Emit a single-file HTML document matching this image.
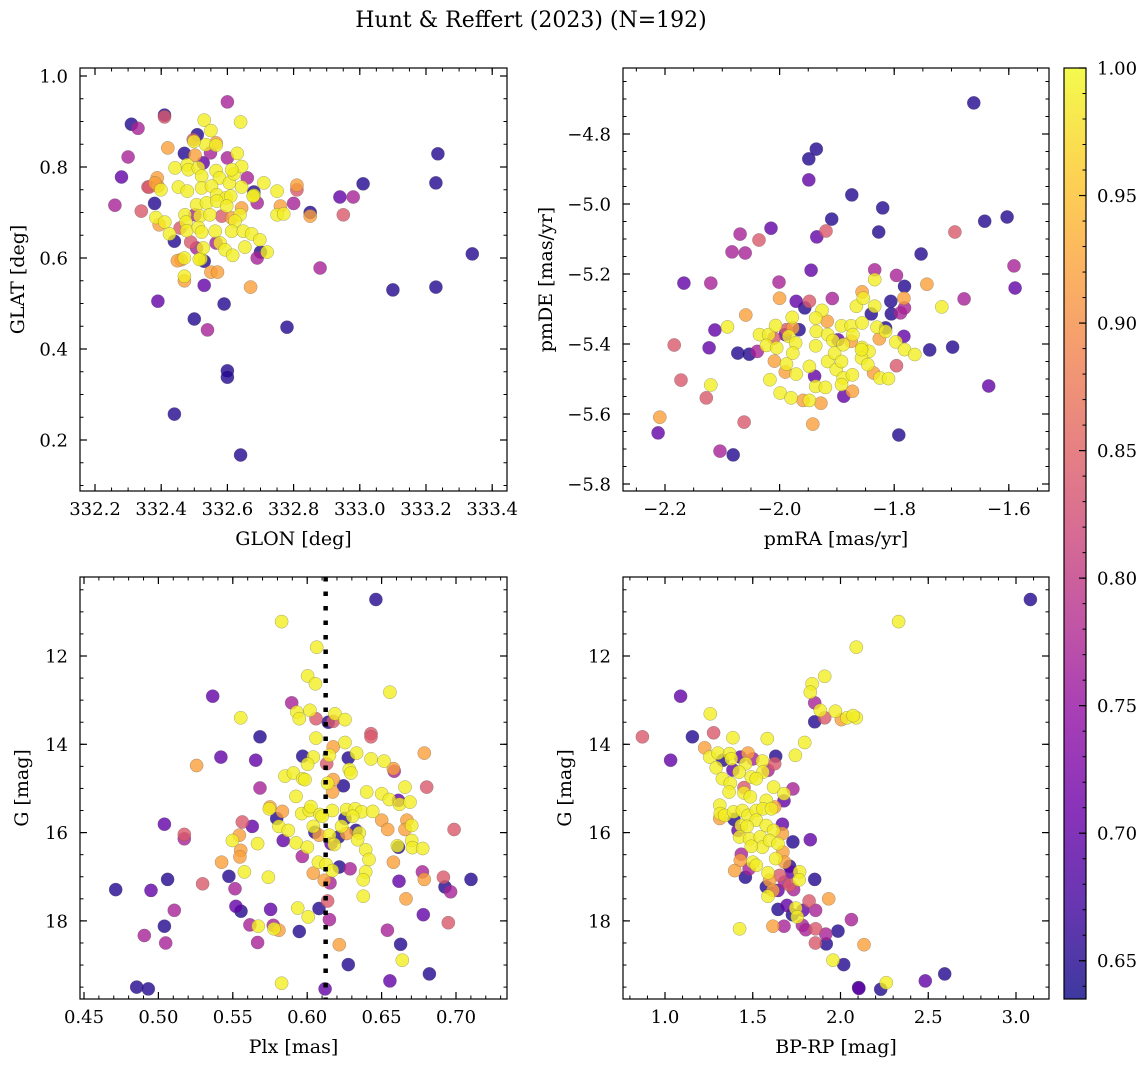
<!DOCTYPE html>
<html><head><meta charset="utf-8">
<style>
html,body{margin:0;padding:0;background:#fff;}
svg text{font-family:"DejaVu Serif","Liberation Serif",serif;fill:#000;}
</style></head>
<body>
<svg id="fig" width="1148" height="1067" viewBox="0 0 1148 1067" xmlns="http://www.w3.org/2000/svg">
<rect width="1148" height="1067" fill="#fff"/>
<text x="531" y="27" font-size="22" text-anchor="middle">Hunt &amp; Reffert (2023) (N=192)</text>
</svg>
<script>
// ---- data ----
const b=.65,p=.70,m=.77,k=.84,o=.92,y=.99;
const posData=[[332.31,0.894,b],[332.33,0.885,m],[332.28,0.778,p],[332.26,0.716,m],[332.30,0.822,m],[332.41,0.914,b],[332.41,0.910,k],[332.60,0.943,m],[332.64,0.899,y],[332.53,0.903,y],[332.55,0.88,y],
[333.236,0.829,b],[333.23,0.765,b],[333.34,0.609,b],[333.23,0.536,b],[333.10,0.53,b],[333.01,0.763,b],[332.94,0.734,p],[332.98,0.734,m],[332.95,0.695,k],[332.88,0.578,m],[332.78,0.448,b],[332.64,0.167,b],[332.44,0.257,b],[332.60,0.352,b],[332.60,0.338,b],[332.50,0.466,b],[332.54,0.442,m],[332.59,0.499,b],[332.39,0.505,p],[332.53,0.54,p],[332.67,0.536,o],[332.85,0.70,b],[332.85,0.692,o],[332.81,0.76,o],[332.81,0.75,k],[332.80,0.72,m],[332.76,0.714,o],[332.75,0.695,y],[332.77,0.697,y],[332.71,0.765,y],[332.75,0.747,y],
[332.34,0.703,k],[332.42,0.842,o],[332.47,0.83,b],[332.60,0.82,m],[332.63,0.83,y],[332.66,0.776,m],[332.38,0.72,b],[332.39,0.758,o],[332.36,0.756,k],[332.44,0.637,b],[332.46,0.596,o],[332.47,0.56,y],[332.47,0.55,o],[332.55,0.569,o],[332.57,0.569,o],[332.52,0.598,y],[332.53,0.593,b],[332.69,0.60,m],[332.70,0.613,b],[332.72,0.613,y],[332.68,0.745,b],[332.68,0.738,y],
[332.442,0.798,y],[332.479,0.805,y],[332.502,0.826,o],[332.497,0.860,k],[332.509,0.871,b],[332.535,0.849,y],[332.566,0.853,o],[332.566,0.848,y],[332.499,0.856,y],[332.549,0.831,m],[332.527,0.809,p],[332.482,0.794,y],[332.512,0.798,y],[332.522,0.780,y],[332.566,0.792,y],[332.576,0.776,y],[332.606,0.765,y],[332.620,0.785,y],[332.643,0.801,y],[332.613,0.794,y],[332.452,0.756,y],[332.479,0.747,y],[332.522,0.754,y],[332.552,0.758,y],[332.568,0.739,y],[332.596,0.732,y],[332.610,0.736,y],[332.643,0.756,y],[332.388,0.776,o],[332.381,0.765,o],[332.399,0.750,y],[332.364,0.756,k],[332.507,0.717,y],[332.537,0.721,y],[332.568,0.725,y],[332.598,0.714,y],[332.643,0.710,o],[332.638,0.695,y],[332.583,0.692,k],[332.613,0.688,o],[332.623,0.681,y],[332.472,0.695,y],[332.475,0.679,y],[332.384,0.689,y],[332.411,0.679,y],[332.394,0.673,o],[332.502,0.695,m],[332.517,0.692,y],[332.547,0.695,y],[332.457,0.666,k],[332.477,0.660,y],[332.512,0.667,y],[332.522,0.657,y],[332.563,0.659,y],[332.613,0.659,y],[332.425,0.653,y],[332.648,0.659,y],[332.673,0.653,y],[332.698,0.640,y],[332.653,0.624,y],[332.489,0.635,k],[332.507,0.622,m],[332.527,0.622,y],[332.566,0.633,m],[332.578,0.633,y],[332.593,0.618,y],[332.616,0.606,y],[332.470,0.600,y],[332.449,0.594,o],[332.515,0.597,y],[332.678,0.736,y],[332.690,0.721,m]];
const pmData=[[-1.661,-4.711,b],[-1.936,-4.843,b],[-1.949,-4.871,b],[-1.949,-4.931,p],[-1.874,-4.974,b],[-1.820,-5.011,b],[-1.909,-5.043,b],[-1.642,-5.049,b],[-1.603,-5.037,b],[-2.015,-5.069,p],[-1.919,-5.077,k],[-1.935,-5.094,p],[-1.827,-5.08,b],[-1.694,-5.08,k],[-2.069,-5.086,m],[-2.036,-5.103,k],[-2.083,-5.137,m],[-2.060,-5.14,m],[-1.753,-5.143,b],[-1.945,-5.189,p],[-1.591,-5.177,m],[-1.589,-5.24,p],[-2.167,-5.226,p],[-2.12,-5.226,m],[-2.001,-5.223,m],[-1.743,-5.229,o],[-1.678,-5.271,m],[-1.717,-5.294,y],[-1.738,-5.417,b],[-1.698,-5.409,b],[-1.635,-5.52,p],[-1.792,-5.66,b],[-2.059,-5.317,o],[-2.091,-5.351,y],[-2.113,-5.36,p],[-2.184,-5.403,k],[-2.123,-5.411,p],[-2.073,-5.426,b],[-2.053,-5.429,b],[-2.172,-5.503,k],[-2.12,-5.517,y],[-2.128,-5.554,k],[-2.209,-5.609,o],[-2.212,-5.654,p],[-2.062,-5.623,k],[-2.104,-5.706,m],[-2.081,-5.717,b],[-1.942,-5.629,o],[-1.928,-5.569,o],
[-2.035,-5.373,y],[-2.019,-5.373,y],[-2.007,-5.347,y],[-2.023,-5.404,y],[-2.005,-5.411,y],[-2.009,-5.449,o],[-1.988,-5.457,y],[-1.990,-5.480,o],[-1.971,-5.486,y],[-2.017,-5.502,y],[-1.999,-5.540,y],[-1.980,-5.554,y],[-1.959,-5.561,o],[-1.948,-5.561,y],[-1.978,-5.324,y],[-1.984,-5.378,y],[-1.972,-5.397,y],[-1.977,-5.426,y],[-1.971,-5.278,p],[-1.948,-5.278,k],[-1.956,-5.297,b],[-1.926,-5.304,y],[-1.937,-5.326,y],[-1.936,-5.364,y],[-1.917,-5.335,o],[-1.916,-5.373,y],[-1.937,-5.405,y],[-1.907,-5.390,y],[-1.892,-5.348,y],[-1.875,-5.348,y],[-1.908,-5.270,m],[-1.948,-5.464,y],[-1.939,-5.492,p],[-1.937,-5.521,y],[-1.920,-5.524,y],[-1.916,-5.450,y],[-1.904,-5.426,y],[-1.901,-5.473,y],[-1.892,-5.450,y],[-1.889,-5.497,y],[-1.892,-5.516,y],[-1.888,-5.549,p],[-1.873,-5.535,o],[-1.873,-5.488,y],[-1.856,-5.410,y],[-1.856,-5.340,y],[-1.866,-5.292,y],[-1.854,-5.269,y],[-1.856,-5.251,o],[-1.834,-5.216,y],[-1.834,-5.292,y],[-1.840,-5.314,b],[-1.830,-5.352,y],[-1.815,-5.364,y],[-1.815,-5.354,b],[-1.826,-5.385,o],[-1.797,-5.394,y],[-1.782,-5.416,y],[-1.764,-5.430,y],[-1.783,-5.378,p],[-1.806,-5.278,b],[-1.805,-5.314,b],[-1.789,-5.311,m],[-1.782,-5.297,m],[-1.844,-5.421,y],[-1.857,-5.440,y],[-1.846,-5.459,y],[-1.836,-5.483,o],[-1.825,-5.497,y],[-1.810,-5.499,y],[-1.875,-5.392,o],[-1.872,-5.373,y],[-1.889,-5.402,y],[-1.857,-5.416,y],[-2.000,-5.269,o],[-2.039,-5.421,m],[-2.010,-5.383,k],[-1.990,-5.373,p],[-1.966,-5.359,b],[-1.898,-5.388,p],[-1.977,-5.354,o],[-1.988,-5.359,k],[-1.834,-5.188,m],[-1.796,-5.204,m],[-1.782,-5.235,b],[-1.783,-5.269,o],[-1.796,-5.462,k]];
const plxData=[[0.6462,10.72,b],[0.5828,11.22,y],[0.6064,11.80,y],[0.6003,12.45,y],[0.6055,12.63,y],[0.6556,12.82,y],[0.5365,12.91,p],[0.5896,13.06,m],[0.5553,13.40,y],[0.593,13.27,y],[0.5947,13.42,y],[0.6019,13.23,y],[0.6059,13.42,k],[0.6187,13.31,y],[0.6254,13.44,y],[0.6142,13.50,b],[0.6175,13.48,k],[0.5683,13.83,b],[0.6429,13.76,k],[0.6429,13.83,k],[0.6059,13.86,y],[0.6254,13.96,y],[0.542,14.29,p],[0.5654,14.36,p],[0.5257,14.48,o],[0.597,14.27,b],[0.6041,14.29,y],[0.6003,14.45,y],[0.6131,14.44,k],[0.6175,14.06,o],[0.6149,14.25,y],[0.6276,14.31,b],[0.6332,14.20,y],[0.6429,14.33,y],[0.6516,14.38,y],[0.6579,14.55,o],[0.6585,14.61,m],[0.6787,14.20,o],[0.6283,14.57,y],[0.6294,14.65,y],[0.5851,14.72,y],[0.5907,14.65,y],[0.597,14.78,y],[0.5985,14.80,y],[0.6137,14.88,y],[0.6175,14.80,o],[0.6171,15.08,o],[0.6243,14.94,b],[0.5683,14.99,m],[0.6803,14.97,k],[0.64,15.08,y],[0.6501,15.12,y],[0.6552,15.25,y],[0.6613,15.27,p],[0.662,15.36,y],[0.6691,15.31,y],[0.6657,14.97,y],[0.5925,15.18,y],[0.575,15.42,o],[0.5745,15.46,y],[0.5833,15.52,o],[0.5963,15.57,y],[0.6014,15.5,y],[0.6025,15.41,y],[0.6169,15.5,y],[0.6265,15.48,y],[0.6323,15.46,y],[0.6366,15.53,y],[0.644,15.52,y],[0.6086,15.59,y],[0.61,15.63,y],[0.6254,15.68,b],[0.6305,15.63,y],[0.6501,15.72,o],[0.6541,15.93,o],[0.667,15.72,o],[0.6702,15.84,y],[0.6657,15.93,o],[0.6987,15.93,k],[0.5795,15.68,b],[0.581,15.86,y],[0.5873,15.95,y],[0.5564,15.76,k],[0.5631,15.86,p],[0.504,15.81,p],[0.5174,16.04,k],[0.5174,16.14,m],[0.5544,16.06,o],[0.5497,16.18,y],[0.6041,15.86,y],[0.6052,15.99,b],[0.6079,16.06,o],[0.615,16.06,y],[0.6231,15.86,y],[0.6211,16.10,b],[0.6265,16.02,o],[0.6328,15.95,b],[0.635,16.01,y],[0.6339,16.16,y],[0.5839,16.18,p],[0.5925,16.23,y],[0.6001,16.33,y],[0.616,16.25,p],[0.6182,16.27,y],[0.6613,16.33,b],[0.6606,16.30,y],[0.6702,16.18,y],[0.6707,16.34,y],[0.6776,16.36,y],[0.5667,16.25,y],[0.5553,16.40,o],[0.5548,16.55,o],[0.5425,16.67,o],[0.5967,16.54,m],[0.6393,16.39,y],[0.6415,16.61,y],[0.6075,16.67,y],[0.6127,16.72,y],[0.6216,16.78,b],[0.6288,16.82,m],[0.6579,16.67,o],[0.6169,16.86,y],[0.6041,16.92,o],[0.5578,16.89,y],[0.5739,17.01,y],[0.6393,16.89,y],[0.6377,17.07,y],[0.5474,16.99,b],[0.5297,17.16,k],[0.5062,17.06,b],[0.6115,17.08,o],[0.6153,17.14,m],[0.6617,17.10,p],[0.6774,16.89,m],[0.6787,17.06,o],[0.6915,17.01,k],[0.6926,17.23,b],[0.6964,17.34,m],[0.7101,17.06,b],[0.4713,17.29,b],[0.495,17.31,p],[0.5515,17.27,m],[0.6377,17.44,y],[0.6664,17.50,o],[0.6137,17.55,k],[0.5107,17.76,m],[0.5521,17.67,p],[0.5555,17.78,b],[0.5754,17.74,p],[0.5936,17.71,y],[0.6079,17.72,b],[0.6007,17.91,y],[0.6149,17.97,m],[0.678,17.86,p],[0.6948,18.04,k],[0.504,18.12,b],[0.5615,18.09,m],[0.5671,18.12,y],[0.5772,18.10,m],[0.5777,18.18,y],[0.581,18.21,o],[0.5947,18.24,b],[0.6539,18.21,m],[0.4905,18.33,m],[0.5049,18.50,m],[0.5667,18.49,m],[0.6216,18.54,o],[0.6628,18.53,b],[0.6639,18.89,y],[0.6276,18.99,b],[0.6821,19.20,b],[0.6556,19.36,p],[0.5828,19.41,y],[0.4854,19.50,b],[0.4932,19.54,b],[0.612,19.54,p]];
const cmdData=[[3.082,10.72,b],[2.331,11.22,y],[2.090,11.80,y],[1.910,12.46,y],[1.838,12.63,y],[1.828,12.82,y],[1.089,12.91,p],[1.853,13.06,m],[1.885,13.23,y],[1.910,13.40,k],[1.853,13.49,b],[1.971,13.25,y],[2.005,13.44,o],[2.037,13.40,y],[2.090,13.40,y],[2.072,13.35,y],[1.258,13.31,y],[0.871,13.83,k],[1.156,13.83,b],[1.277,13.74,k],[1.387,13.85,y],[1.583,13.87,y],[1.796,13.96,y],[1.743,14.25,y],[1.032,14.36,p],[1.226,14.08,o],
[1.255,14.29,y],[1.302,14.20,y],[1.33,14.36,b],[1.292,14.53,y],[1.368,14.21,y],[1.378,14.33,y],[1.429,14.29,p],[1.473,14.20,o],[1.460,14.44,y],[1.501,14.33,m],[1.555,14.38,y],[1.631,14.27,b],[1.625,14.44,k],[1.587,14.59,m],[1.558,14.63,y],[1.387,14.58,p],[1.422,14.63,y],[1.492,14.74,y],[1.520,14.78,y],[1.327,14.78,y],[1.372,14.88,y],[1.365,15.08,y],[1.450,14.98,k],[1.450,15.10,y],[1.619,14.97,y],[1.678,15.12,y],[1.729,15.01,m],[1.678,15.28,p],[1.486,15.19,y],[1.577,15.27,y],[1.625,15.42,o],[1.312,15.38,y],[1.315,15.57,y],[1.312,15.68,o],[1.340,15.61,y],[1.391,15.53,y],[1.393,15.70,b],[1.441,15.50,y],[1.473,15.61,y],[1.520,15.50,y],[1.558,15.46,y],[1.606,15.46,y],[1.52,15.72,y],[1.435,15.84,y],[1.467,15.86,y],[1.416,15.95,p],[1.425,16.10,y],[1.577,15.84,y],[1.619,15.95,y],[1.669,15.81,p],[1.669,16.02,o],[1.482,16.14,y],[1.543,16.10,y],[1.555,16.33,y],[1.596,16.18,y],[1.644,16.25,y],[1.492,16.31,y],[1.729,16.21,b],[1.828,16.16,p],[1.631,16.59,y],[1.672,16.44,o],[1.682,16.67,o],[1.435,16.49,m],[1.429,16.63,o],[1.479,16.82,m],[1.501,16.67,y],[1.520,16.74,y],[1.397,16.86,o],[1.458,17.01,b],[1.710,16.76,b],[1.720,16.89,p],[1.767,16.89,y],[1.764,17.07,y],[1.587,16.91,y],[1.596,17.08,o],[1.653,16.97,k],[1.682,17.12,m],[1.853,17.06,b],[1.577,17.23,b],[1.615,17.31,o],[1.644,17.31,p],[1.710,17.19,k],[1.733,17.29,m],[1.587,17.44,y],[1.821,17.55,k],[1.933,17.50,o],[1.644,17.74,b],[1.695,17.65,p],[1.745,17.71,y],[1.786,17.76,p],[1.858,17.76,m],[1.726,17.86,b],[1.754,17.91,y],[1.783,18.10,m],[1.802,18.20,m],[1.858,18.18,k],[1.986,18.23,b],[2.062,17.97,m],[1.425,18.18,y],[1.615,18.12,o],[1.678,18.12,m],[1.857,18.50,k],[1.919,18.52,b],[1.916,18.30,m],[2.134,18.54,o],[1.957,18.89,y],[2.018,18.99,b],[2.103,19.51,b],[2.105,19.53,p],[2.229,19.55,b],[2.261,19.40,y],[2.483,19.36,p],[2.594,19.20,b]];
const medianPlx=0.6124;
const posXTicks=[332.2,332.4,332.6,332.8,333.0,333.2,333.4];
const posYTicks=[0.2,0.4,0.6,0.8,1.0];
const pmXTicks=[-2.2,-2.0,-1.8,-1.6];
const pmYTicks=[-5.8,-5.6,-5.4,-5.2,-5.0,-4.8];
const plxXTicks=[0.45,0.50,0.55,0.60,0.65,0.70];
const gTicks=[12,14,16,18];
const bprpTicks=[1.0,1.5,2.0,2.5,3.0];
const cbTicks=[0.65,0.70,0.75,0.80,0.85,0.90,0.95,1.00];
const vmin=0.635,vmax=1.0;

// ---- rendering ----
const NS="http://www.w3.org/2000/svg";
const svg=document.getElementById('fig');
function mk(tag,attrs,parent){const e=document.createElementNS(NS,tag);for(const a in attrs)e.setAttribute(a,attrs[a]);(parent||svg).appendChild(e);return e;}
const plasma=[[13,8,135],[65,4,157],[106,0,168],[143,13,164],[177,42,144],[204,71,120],[225,100,98],[242,132,75],[252,166,54],[252,206,37],[240,249,33]];
function cmap(v){let t=(v-vmin)/(vmax-vmin);t=Math.max(0,Math.min(1,t))*10;const i=Math.min(9,Math.floor(t)),f=t-i;const a=plasma[i],c=plasma[i+1];return 'rgb('+[0,1,2].map(j=>Math.round(a[j]+(c[j]-a[j])*f)).join(',')+')';}
function fmt(v,d){return (v<0?'\u2212':'')+Math.abs(v).toFixed(d);}
const TF=18, LF=19;

function panel(cfg){
  const g=mk('g',{});
  
  
  const cid='clip-'+cfg.name;
  const cp=mk('clipPath',{id:cid},g);mk('rect',{x:cfg.L,y:cfg.T,width:cfg.R-cfg.L,height:cfg.B-cfg.T},cp);
  const pts=mk('g',{'clip-path':'url(#'+cid+')'},g);
  
  
  const sorted=cfg.data.slice().sort((a,c)=>a[2]-c[2]);
  sorted.forEach(d=>{
    const c=mk('circle',{cx:cfg.sx(d[0]).toFixed(1),cy:cfg.sy(d[1]).toFixed(1),r:6.6,fill:cmap(d[2]),'fill-opacity':0.8,stroke:'#555','stroke-opacity':0.5,'stroke-width':0.5},pts);
    
    
  });
  if(cfg.extra)cfg.extra(pts);
  const fr=mk('rect',{x:cfg.L,y:cfg.T,width:cfg.R-cfg.L,height:cfg.B-cfg.T,fill:'none',stroke:'#000','stroke-width':1.2},g);
  
  
  const xa=mk('g',{},g);
  
  
  const xt=cfg.xt, xstep=xt[1]-xt[0], xm=xstep/cfg.xdiv;
  for(let v=xt[0]-xstep*3;v<=xt[xt.length-1]+xstep*3;v+=xm){const px=cfg.sx(v);if(px<cfg.L+0.5||px>cfg.R-0.5)continue;
    mk('line',{x1:px,x2:px,y1:cfg.B,y2:cfg.B-3.5,stroke:'#000','stroke-width':1},xa);mk('line',{x1:px,x2:px,y1:cfg.T,y2:cfg.T+3.5,stroke:'#000','stroke-width':1},xa);}
  xt.forEach(v=>{const px=cfg.sx(v);
    mk('line',{x1:px,x2:px,y1:cfg.B,y2:cfg.B-7,stroke:'#000','stroke-width':1.2},xa);mk('line',{x1:px,x2:px,y1:cfg.T,y2:cfg.T+7,stroke:'#000','stroke-width':1.2},xa);
    const t=mk('text',{x:px,y:cfg.B+24,'font-size':TF,'text-anchor':'middle'},xa);t.textContent=fmt(v,cfg.xd);
    
    });
  const xl=mk('text',{x:(cfg.L+cfg.R)/2,y:cfg.B+54,'font-size':LF,'text-anchor':'middle'},g);xl.textContent=cfg.xlab;
  
  
  const ya=mk('g',{},g);
  
  
  const yt=cfg.yt, ystep=yt[1]-yt[0], ym=ystep/cfg.ydiv;
  for(let v=yt[0]-ystep*3;v<=yt[yt.length-1]+ystep*3;v+=ym){const py=cfg.sy(v);if(py<cfg.T+0.5||py>cfg.B-0.5)continue;
    mk('line',{x1:cfg.L,x2:cfg.L+3.5,y1:py,y2:py,stroke:'#000','stroke-width':1},ya);mk('line',{x1:cfg.R,x2:cfg.R-3.5,y1:py,y2:py,stroke:'#000','stroke-width':1},ya);}
  yt.forEach(v=>{const py=cfg.sy(v);
    mk('line',{x1:cfg.L,x2:cfg.L+7,y1:py,y2:py,stroke:'#000','stroke-width':1.2},ya);mk('line',{x1:cfg.R,x2:cfg.R-7,y1:py,y2:py,stroke:'#000','stroke-width':1.2},ya);
    const t=mk('text',{x:cfg.L-12,y:py+6.5,'font-size':TF,'text-anchor':'end'},ya);t.textContent=fmt(v,cfg.yd);
    
    });
  const yx=cfg.ylx, yy=(cfg.T+cfg.B)/2;
  const yl=mk('text',{x:yx,y:yy,'font-size':LF,'text-anchor':'middle',transform:'rotate(-90 '+yx+' '+yy+')'},g);yl.textContent=cfg.ylab;
  
  
}

panel({name:'position-panel',L:80,R:507,T:68,B:491,data:posData,sx:v=>95+(v-332.2)*331,sy:v=>76+(1.0-v)*455,
  xt:posXTicks,xdiv:4,xd:1,yt:posYTicks,ydiv:4,yd:1,xlab:'GLON [deg]',ylab:'GLAT [deg]',ylx:24});
panel({name:'proper-motion-panel',L:623,R:1049,T:68,B:491,data:pmData,sx:v=>665+(v+2.2)*573,sy:v=>134+(-4.8-v)*350,
  xt:pmXTicks,xdiv:4,xd:1,yt:pmYTicks,ydiv:4,yd:1,xlab:'pmRA [mas/yr]',ylab:'pmDE [mas/yr]',ylx:552});
const gY=v=>656+(v-12)*44.15;
panel({name:'parallax-panel',L:80,R:507,T:577,B:999,data:plxData,sx:v=>84+(v-0.45)*1488,sy:gY,
  xt:plxXTicks,xdiv:5,xd:2,yt:gTicks,ydiv:4,yd:0,xlab:'Plx [mas]',ylab:'G [mag]',ylx:28,
  extra:(gp)=>{const x=84+(medianPlx-0.45)*1488;const l=mk('line',{x1:x,x2:x,y1:577,y2:999,stroke:'#000','stroke-width':4.5,'stroke-dasharray':'4.5 10'},gp);
    
    }});
panel({name:'cmd-panel',L:623,R:1049,T:577,B:999,data:cmdData,sx:v=>665+(v-1)*175.5,sy:gY,
  xt:bprpTicks,xdiv:5,xd:1,yt:gTicks,ydiv:4,yd:0,xlab:'BP-RP [mag]',ylab:'G [mag]',ylx:571});

(function(){
  const L=1064,R=1086,T=68,B=999;
  const g=mk('g',{});
  
  
  const defs=mk('defs',{},g);const lg=mk('linearGradient',{id:'cbg',x1:0,y1:1,x2:0,y2:0},defs);
  plasma.forEach((c,i)=>mk('stop',{offset:(i/10),'stop-color':'rgb('+c.join(',')+')','stop-opacity':0.8},lg));
  mk('rect',{x:L,y:T,width:R-L,height:B-T,fill:'url(#cbg)'},g);
  mk('rect',{x:L,y:T,width:R-L,height:B-T,fill:'none',stroke:'#000','stroke-width':1.2},g);
  const sy=v=>B-(v-vmin)/(vmax-vmin)*(B-T);
  for(let v=0.64;v<=1.0001;v+=0.01){const py=sy(v);mk('line',{x1:R,x2:R-3.5,y1:py,y2:py,stroke:'#000','stroke-width':1},g);}
  cbTicks.forEach(v=>{const py=sy(v);mk('line',{x1:R,x2:R-7,y1:py,y2:py,stroke:'#000','stroke-width':1.2},g);
    const t=mk('text',{x:R+11,y:py+6.5,'font-size':TF},g);t.textContent=v.toFixed(2);
    
    });
})();
</script>
</body></html>
